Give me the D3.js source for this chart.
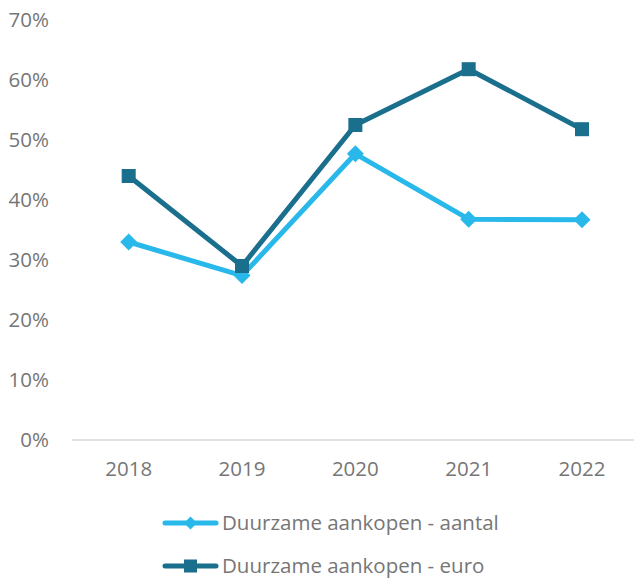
<!DOCTYPE html>
<html>
<head>
<meta charset="utf-8">
<script src="https://d3js.org/d3.v7.min.js"></script>
<style>
  body { margin: 0; background: #fff; }
  svg { display: block; font-family: 'Open Sans', sans-serif; }
</style>
</head>
<body>
<svg></svg>
<script>
const years = ["2018", "2019", "2020", "2021", "2022"];
const aantal = [33.0, 27.4, 47.7, 36.8, 36.7];
const euro = [44.0, 29.0, 52.5, 61.8, 51.8];
const yTicks = [0, 10, 20, 30, 40, 50, 60, 70];
const seriesNames = ["Duurzame aankopen - aantal", "Duurzame aankopen - euro"];
const colors = ["#29b8ea", "#1a6f8c"];

const width = 634, height = 580;
const fontSize = 20.5;
const svg = d3.select("svg").attr("width", width).attr("height", height);

const x = d3.scalePoint().domain(years).range([128.7, 582]);
const y = d3.scaleLinear().domain([0, 70]).range([440, 20]);

// baseline
svg.append("line")
  .attr("x1", 72).attr("x2", width)
  .attr("y1", y(0)).attr("y2", y(0))
  .attr("stroke", "#d9d9d9").attr("stroke-width", 1.5);

// y labels
svg.append("g").selectAll("text")
  .data(yTicks).enter().append("text")
  .attr("x", 49).attr("y", d => y(d))
  .attr("dy", "0.35em")
  .attr("text-anchor", "end")
  .attr("fill", "#767676").attr("font-size", fontSize)
  .text(d => d + "%");

// x labels
svg.append("g").selectAll("text")
  .data(years).enter().append("text")
  .attr("x", d => x(d)).attr("y", 469)
  .attr("dy", "0.35em")
  .attr("text-anchor", "middle")
  .attr("fill", "#767676").attr("font-size", fontSize)
  .text(d => d);

const line = d3.line().x((d, i) => x(years[i])).y(d => y(d));

function diamond(g, cx, cy, r, color) {
  g.append("path")
    .attr("d", `M${cx},${cy - r}L${cx + r},${cy}L${cx},${cy + r}L${cx - r},${cy}Z`)
    .attr("fill", color);
}
function square(g, cx, cy, s, color) {
  g.append("rect")
    .attr("x", cx - s / 2).attr("y", cy - s / 2)
    .attr("width", s).attr("height", s)
    .attr("fill", color);
}

// aantal series
svg.append("path").datum(aantal)
  .attr("d", line).attr("fill", "none")
  .attr("stroke", colors[0]).attr("stroke-width", 5)
  .attr("stroke-linejoin", "round");
const gA = svg.append("g");
aantal.forEach((v, i) => diamond(gA, x(years[i]), y(v), 8.5, colors[0]));

// euro series
svg.append("path").datum(euro)
  .attr("d", line).attr("fill", "none")
  .attr("stroke", colors[1]).attr("stroke-width", 5)
  .attr("stroke-linejoin", "round");
const gE = svg.append("g");
euro.forEach((v, i) => square(gE, x(years[i]), y(v), 14, colors[1]));

// legend
const legendY = [523, 566];
seriesNames.forEach((name, i) => {
  const g = svg.append("g");
  g.append("line")
    .attr("x1", 165).attr("x2", 216)
    .attr("y1", legendY[i]).attr("y2", legendY[i])
    .attr("stroke", colors[i]).attr("stroke-width", 5)
    .attr("stroke-linecap", "round");
  if (i === 0) diamond(g, 190.5, legendY[i], 6.5, colors[i]);
  else square(g, 190.5, legendY[i], 13, colors[i]);
  g.append("text")
    .attr("x", 222).attr("y", legendY[i])
    .attr("dy", "0.35em")
    .attr("fill", "#767676").attr("font-size", fontSize)
    .text(name);
});
</script>
</body>
</html>
